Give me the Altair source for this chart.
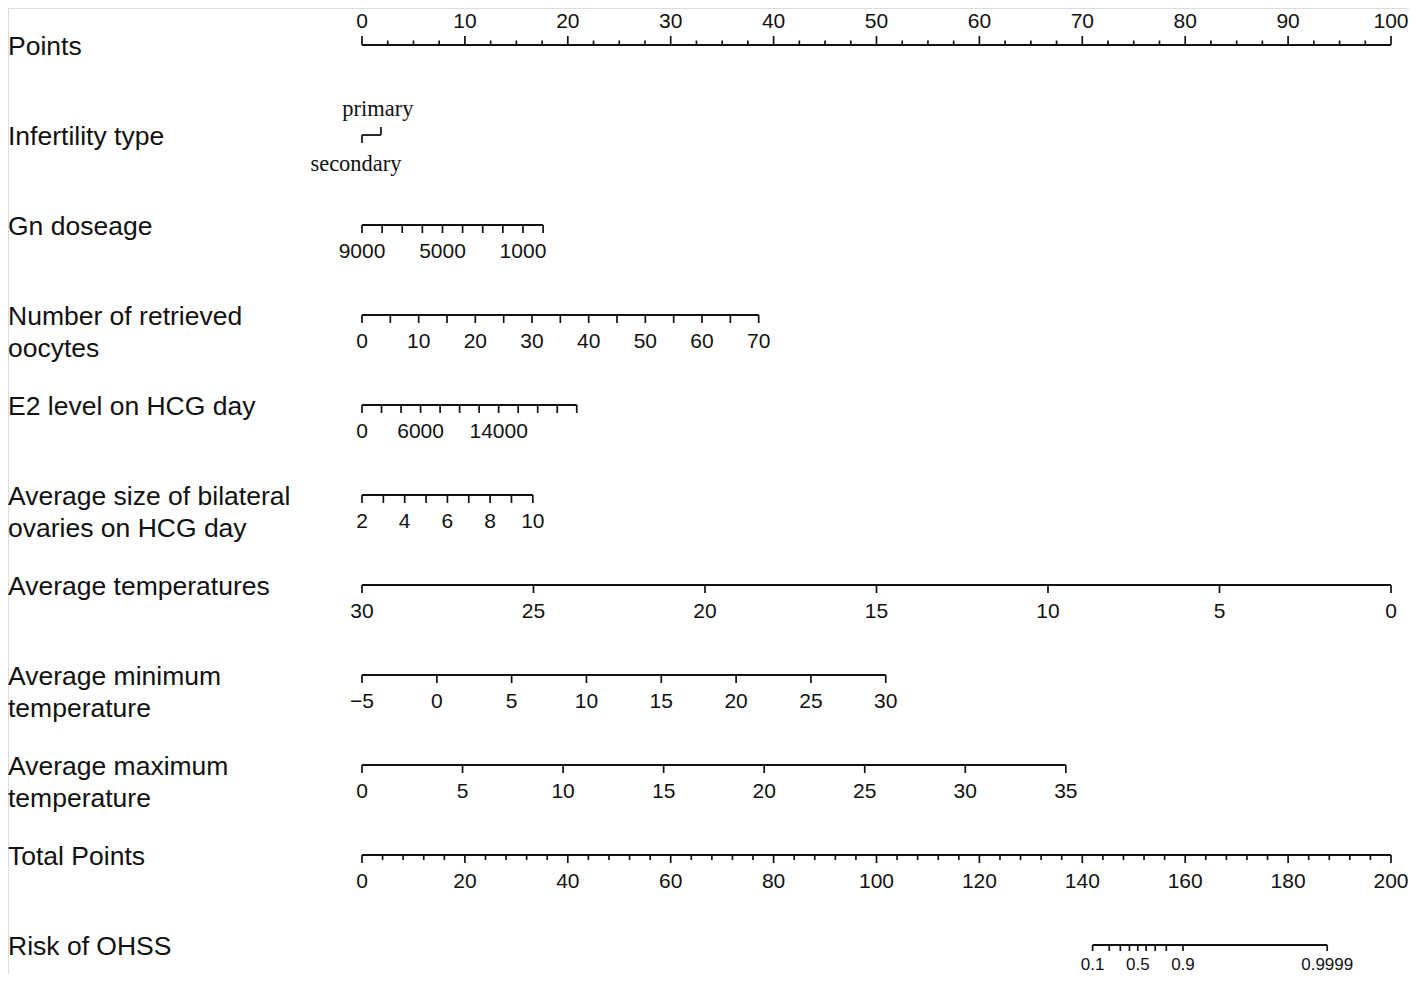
import math
import altair as alt
import pandas as pd

# ---------------- data ----------------
ROW_LABELS = [
    "Points",
    "Infertility type",
    "Gn doseage",
    "Number of retrieved\noocytes",
    "E2 level on HCG day",
    "Average size of bilateral\novaries on HCG day",
    "Average temperatures",
    "Average minimum\ntemperature",
    "Average maximum\ntemperature",
    "Total Points",
    "Risk of OHSS",
]

# Points axis (0-100)
points_major = [0, 10, 20, 30, 40, 50, 60, 70, 80, 90, 100]
points_minor = [m + d for m in points_major[:-1] for d in (2.5, 5, 7.5)]

# Infertility type: level -> points
infert_levels = ["secondary", "primary"]
infert_points = [0.0, 1.84]

# Gn doseage
gn_ticks = [9000, 8000, 7000, 6000, 5000, 4000, 3000, 2000, 1000, 0]
gn_labels = [9000, 5000, 1000]
gn_range = (9000, 0, 0.0, 17.6)          # value start, value end, points start, points end

# Number of retrieved oocytes
ooc_ticks = [0, 5, 10, 15, 20, 25, 30, 35, 40, 45, 50, 55, 60, 65, 70]
ooc_labels = [0, 10, 20, 30, 40, 50, 60, 70]
ooc_range = (0, 70, 0.0, 38.55)

# E2 level on HCG day
e2_ticks = [0, 2000, 4000, 6000, 8000, 10000, 12000, 14000, 16000, 18000, 20000, 22000]
e2_labels = [0, 6000, 14000]
e2_range = (0, 22000, 0.0, 20.87)

# Average size of bilateral ovaries
ov_ticks = [2, 3, 4, 5, 6, 7, 8, 9, 10]
ov_labels = [2, 4, 6, 8, 10]
ov_range = (2, 10, 0.0, 16.6)

# Average temperatures
at_ticks = [30, 25, 20, 15, 10, 5, 0]
at_range = (30, 0, 0.0, 100.0)

# Average minimum temperature
amin_ticks = [-5, 0, 5, 10, 15, 20, 25, 30]
amin_range = (-5, 30, 0.0, 50.9)

# Average maximum temperature
amax_ticks = [0, 5, 10, 15, 20, 25, 30, 35]
amax_range = (0, 35, 0.0, 68.4)

# Total points (0-200)
total_major = [0, 20, 40, 60, 80, 100, 120, 140, 160, 180, 200]
total_minor = [m + d for m in total_major[:-1] for d in (4, 8, 12, 16)]
total_range = (0, 200, 0.0, 100.0)

# Risk of OHSS
risk_ticks = [0.1, 0.2, 0.3, 0.4, 0.5, 0.6, 0.7, 0.8, 0.9, 0.9999]
risk_labels = ["0.1", "0.5", "0.9", "0.9999"]
risk_range = (0.1, 0.9999, 71.0, 93.8)   # probabilities and their point positions

# ---------------- layout ----------------
W, H = 1401, 966
PX_PER_PT = 10.29
X0_PX = 354
ROW_PX = 90.0
Y0_PX = 37
x_scale = alt.Scale(domain=[-X0_PX / PX_PER_PT, (W - X0_PX) / PX_PER_PT], nice=False, zero=False)
y_scale = alt.Scale(domain=[-Y0_PX / ROW_PX, (H - Y0_PX) / ROW_PX], nice=False, zero=False, reverse=True)


def lin(v, r):
    v0, v1, p0, p1 = r
    return p0 + (v - v0) / (v1 - v0) * (p1 - p0)


def logit(p):
    return math.log(p / (1 - p))


def risk_pos(p):
    v0, v1, p0, p1 = risk_range
    return p0 + (logit(p) - logit(v0)) / (logit(v1) - logit(v0)) * (p1 - p0)


def fmt(v):
    return str(v).replace("-", "\u2212")


lines, ticks, labels = [], [], []

# row 0: Points
lines.append(dict(row=0, x=0, x2=100))
for v in points_major:
    ticks.append(dict(row=0, x=v, kind="up_major"))
    labels.append(dict(row=0, x=v, text=str(v), kind="above"))
for v in points_minor:
    ticks.append(dict(row=0, x=v, kind="up_minor"))

# row 1: infertility
lines.append(dict(row=1, x=min(infert_points), x2=max(infert_points)))
ticks.append(dict(row=1, x=infert_points[0], kind="down"))
ticks.append(dict(row=1, x=infert_points[1], kind="up"))
labels.append(dict(row=1, x=infert_points[0], text=infert_levels[0], kind="below_serif"))
labels.append(dict(row=1, x=infert_points[1], text=infert_levels[1], kind="above_serif"))


def simple_row(row, tks, lbls, r):
    lines.append(dict(row=row, x=lin(r[0], r), x2=lin(r[1], r)))
    for v in tks:
        ticks.append(dict(row=row, x=lin(v, r), kind="down"))
    for v in lbls:
        labels.append(dict(row=row, x=lin(v, r), text=fmt(v), kind="below"))


simple_row(2, gn_ticks, gn_labels, gn_range)
simple_row(3, ooc_ticks, ooc_labels, ooc_range)
simple_row(4, e2_ticks, e2_labels, e2_range)
simple_row(5, ov_ticks, ov_labels, ov_range)
simple_row(6, at_ticks, at_ticks, at_range)
simple_row(7, amin_ticks, amin_ticks, amin_range)
simple_row(8, amax_ticks, amax_ticks, amax_range)

# row 9: total points
lines.append(dict(row=9, x=0, x2=100))
for v in total_major:
    ticks.append(dict(row=9, x=lin(v, total_range), kind="down"))
    labels.append(dict(row=9, x=lin(v, total_range), text=str(v), kind="below"))
for v in total_minor:
    ticks.append(dict(row=9, x=lin(v, total_range), kind="down_minor"))

# row 10: risk
lines.append(dict(row=10, x=risk_pos(risk_ticks[0]), x2=risk_pos(risk_ticks[-1])))
for p in risk_ticks:
    ticks.append(dict(row=10, x=risk_pos(p), kind="down_short"))
for s in risk_labels:
    labels.append(dict(row=10, x=risk_pos(float(s)), text=s, kind="below_small"))

lines_df = pd.DataFrame(lines)
ticks_df = pd.DataFrame(ticks)
labels_df = pd.DataFrame(labels)
names_df = pd.DataFrame({"row": list(range(len(ROW_LABELS))), "name": ROW_LABELS})

INK = "#111111"
SANS = "Liberation Sans"
SERIF = "Liberation Serif"

X = alt.X("x:Q", scale=x_scale, axis=None)
Y = alt.Y("row:Q", scale=y_scale, axis=None)

layers = [
    alt.Chart(lines_df).mark_rule(color=INK, strokeWidth=1.8).encode(x=X, x2="x2:Q", y=Y)
]

tick_styles = {
    "up_major": (9, -4.5),
    "up_minor": (4.5, -2.25),
    "up": (8, -4),
    "down": (8, 4),
    "down_minor": (5, 2.5),
    "down_short": (6, 3),
}
for kind, (size, off) in tick_styles.items():
    layers.append(
        alt.Chart(ticks_df)
        .transform_filter(alt.datum.kind == kind)
        .mark_tick(orient="vertical", size=size, thickness=1.7, yOffset=off, color=INK, opacity=1)
        .encode(x=X, y=Y)
    )

label_styles = {
    "above": dict(dy=-23, fontSize=21, font=SANS),
    "below": dict(dy=27, fontSize=21, font=SANS),
    "below_small": dict(dy=20, fontSize=17, font=SANS),
    "above_serif": dict(dy=-26, dx=-3, fontSize=22.5, font=SERIF),
    "below_serif": dict(dy=29, dx=-6, fontSize=22.5, font=SERIF),
}
for kind, st in label_styles.items():
    layers.append(
        alt.Chart(labels_df)
        .transform_filter(alt.datum.kind == kind)
        .mark_text(align="center", baseline="middle", color=INK, **st)
        .encode(x=X, y=Y, text="text:N")
    )

layers.append(
    alt.Chart(names_df)
    .mark_text(align="left", baseline="alphabetic", dy=10, fontSize=26.5, font=SANS,
               color=INK, lineBreak="\n", lineHeight=32)
    .encode(x=alt.value(0), y=alt.Y("row:Q", scale=y_scale, axis=None), text="name:N")
)

chart = (
    alt.layer(*layers)
    .properties(width=W, height=H, autosize=alt.AutoSizeParams(type="none"), padding=0)
    .configure_view(stroke=None)
    .configure(background="white")
)

chart.save("out.html", embed_options={"renderer": "svg", "actions": False})
